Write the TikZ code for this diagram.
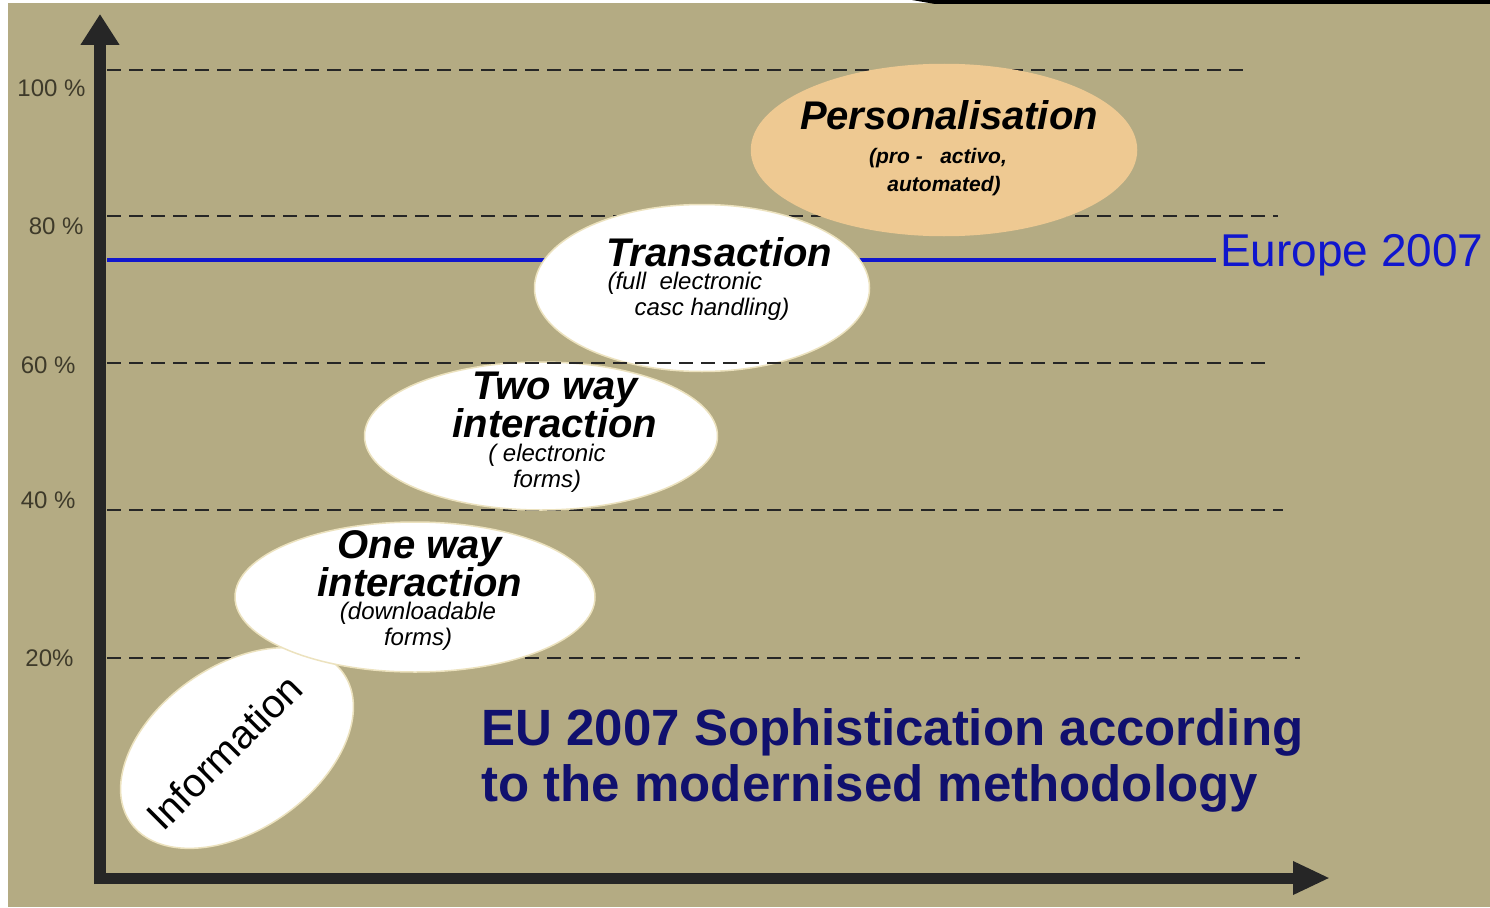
\documentclass[tikz,border=0pt]{standalone}
\usepackage{fontspec}
\setmainfont{Liberation Sans}
\usepackage{tikz}
\usetikzlibrary{shapes.geometric}
\usetikzlibrary{arrows.meta}
\definecolor{bgtan}{RGB}{180,171,131}
\definecolor{axisgray}{RGB}{38,38,38}
\definecolor{pctgray}{RGB}{62,58,42}
\definecolor{persorange}{RGB}{238,201,146}
\definecolor{ellrim}{RGB}{236,226,190}
\definecolor{eublue}{RGB}{16,22,205}
\definecolor{titleblue}{RGB}{16,16,110}
\newcommand{\stagehead}{\fontsize{40}{37}\selectfont\bfseries\itshape}
\newcommand{\stagesub}{\fontsize{24}{26}\selectfont\itshape}
\tikzset{
  axisarrow/.style={line width=12pt, color=axisgray},
  gridline/.style={line width=2pt, color=axisgray, dash pattern=on 14pt off 8pt},
  stage/.style={ellipse, fill=white, draw=ellrim, line width=1.5pt, inner sep=0pt},
  pct/.style={anchor=east, text=pctgray, font=\fontsize{24}{24}\selectfont},
}

\begin{document}
\begin{tikzpicture}[x=1pt,y=-1pt]
  \useasboundingbox (0,0) rectangle (1490,907);
  % background of the slide
  \fill[bgtan] (8,3) rectangle (1490,907);
  \fill[black] (912,0) -- (1490,0) -- (1490,4) -- (935,4) -- cycle;
  % axes
  \coordinate (orig) at (100,884);
  \coordinate (ytop) at (100,14);
  \coordinate (xorig) at (94,878);
  \coordinate (xend) at (1330,878);
  \draw[axisarrow, -{Triangle[length=31pt,width=37pt]}] (orig) -- (ytop);
  \draw[axisarrow, line width=11pt, -{Triangle[length=37pt,width=31pt]}] (xorig) -- (xend);
  % percentage labels
  \node[pct] (p100) at (89,88) {100 \%};
  \node[pct] (p80) at (87,226) {80 \%};
  \node[pct] (p60) at (79,365) {60 \%};
  \node[pct] (p40) at (79,500) {40 \%};
  \node[pct] (p20) at (77,658) {20\%};
  % dashed levels (60 % comes later, over the ellipses)
  \foreach \yy/\xe in {70/1245, 216/1278, 510/1283, 658/1300}{
    \draw[gridline] (107,\yy) -- (\xe,\yy);
  }
  % Europe 2007 level
  \coordinate (bl) at (107,260);
  \node[anchor=west, inner sep=4pt, text=eublue, font=\fontsize{46}{46}\selectfont]
    (nEU) at (1216,255) {Europe 2007};
  \draw[line width=4pt, eublue] (bl) -- (nEU.west |- bl);
  % stages
  \node[stage, rotate=35, minimum width=260pt, minimum height=164pt] (eInfo) at (237,748) {};
  \node[stage, minimum width=360pt, minimum height=150pt] (eOne) at (415,597) {};
  \node[stage, minimum width=353pt, minimum height=148pt] (eTwo) at (541,436) {};
  \node[stage, minimum width=335pt, minimum height=167pt] (eTrans) at (702,288) {};
  \node[stage, fill=persorange, draw=persorange, minimum width=385pt, minimum height=171pt]
    (ePers) at (944,150) {};
  \draw[gridline] (107,363) -- (1268,363);
  % stage texts
  \node[rotate=45, font=\fontsize{40}{40}\selectfont] (nInfo) at (224,752) {Information};
  \node[align=center, font=\stagehead] (nOne) at (420,564) {One way\\interaction};
  \node[align=center, font=\stagesub] (nOneSub) at (418,626) {(downloadable\\forms)};
  \node[align=center, font=\stagehead] (nTwo) at (555,405) {Two way\\interaction};
  \node[align=center, font=\stagesub] (nTwoSub) at (547,468) {( electronic\\forms)};
  \node[font=\stagehead] (nTrans) at (719,252) {Transaction};
  \node[anchor=west, align=left, font=\stagesub] (nTransSub) at (604,296)
    {(full\ \ electronic\\\hspace{27pt}casc handling)};
  \node[font=\stagehead] (nPers) at (949,115) {Personalisation};
  \node[align=center, font=\fontsize{21}{28}\selectfont\bfseries\itshape] (nPersSub) at (938,172)
    {(pro -\ \ \ activo,\\\hspace{12pt}automated)};
  % title
  \node[anchor=west, align=left, text=titleblue, font=\fontsize{51}{56}\selectfont\bfseries]
    (nTitle) at (478,760) {EU 2007 Sophistication according\\to the modernised methodology};
\end{tikzpicture}
\end{document}
